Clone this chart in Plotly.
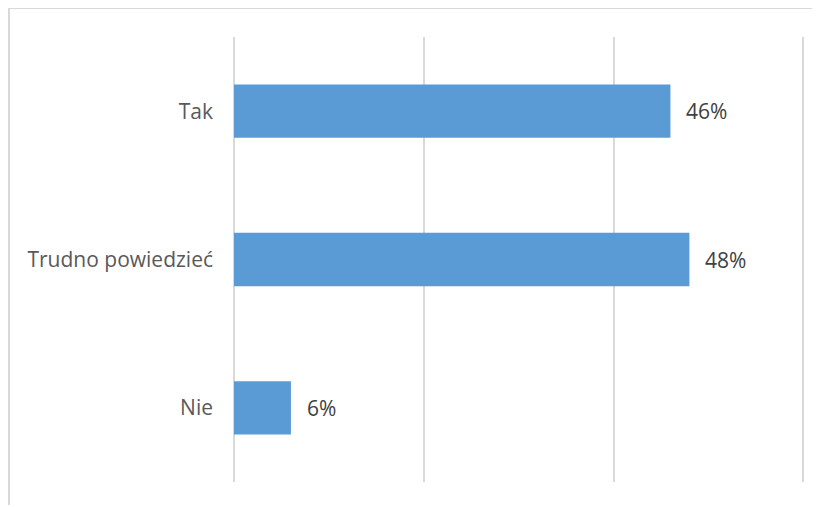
import plotly.graph_objects as go

categories = ["Tak", "Trudno powiedzieć", "Nie"]
values = [46, 48, 6]
labels = ["46%", "48%", "6%"]

# page body has an 8px margin, so the figure starts at (8, 8)
W, H = 810, 497
L, R, T, B = 226, 10, 29, 23
pw, ph = W - L - R, H - T - B

fig = go.Figure(go.Bar(
    x=values, y=categories, orientation="h",
    marker=dict(color="#5B9BD5", line=dict(width=0)),
    hoverinfo="skip",
))

for v, c, t in zip(values, categories, labels):
    fig.add_annotation(x=v, y=c, text=t, showarrow=False, xanchor="left",
                       xshift=14, font=dict(family="Open Sans", size=21, color="#404040"))

def px(x):
    return (x - L) / pw

def py(y):
    return (H - B - y) / ph

fig.add_shape(type="rect", xref="paper", yref="paper",
              x0=px(1), x1=px(830), y0=py(520), y1=py(0),
              line=dict(color="#d9d9d9", width=2), fillcolor="rgba(0,0,0,0)", layer="below")

fig.update_layout(
    width=W, height=H,
    margin=dict(l=L, r=R, t=T, b=B, autoexpand=False),
    paper_bgcolor="white", plot_bgcolor="white",
    bargap=0.64, showlegend=False,
    font=dict(family="Open Sans", size=21, color="#595959"),
    xaxis=dict(range=[0, 60.5], dtick=20, showticklabels=False, showgrid=True,
               gridcolor="#d9d9d9", gridwidth=1.5, zeroline=True, zerolinecolor="#d9d9d9",
               zerolinewidth=1.5, showline=False, fixedrange=True),
    yaxis=dict(categoryorder="array", categoryarray=categories, autorange="reversed",
               showgrid=False, zeroline=False, showline=False, ticks="",
               ticklabelstandoff=20, tickfont=dict(family="Open Sans", size=21, color="#595959")),
)

fig.write_html("out.html")
